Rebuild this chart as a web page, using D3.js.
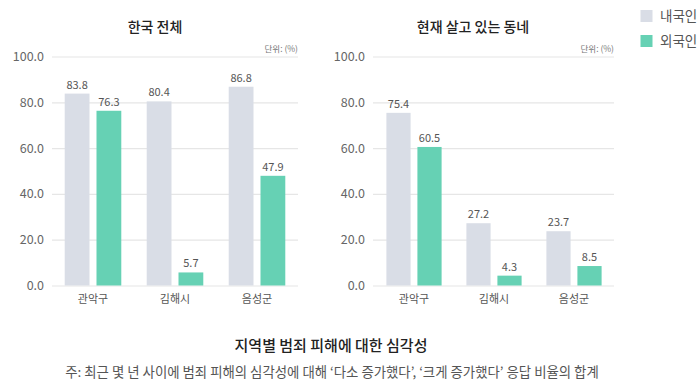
<!DOCTYPE html>
<html><head><meta charset="utf-8">
<script src="https://cdn.jsdelivr.net/npm/d3@7"></script>
<style>
body{margin:0;background:#fff;}
text{font-family:"Noto Sans CJK KR","Noto Sans",sans-serif;}
</style></head>
<body><svg id="c" width="700" height="392"></svg>
<script>
const categories = ["관악구", "김해시", "음성군"];
const seriesNames = ["내국인", "외국인"];
const panelTitles = ["한국 전체", "현재 살고 있는 동네"];
const koreaDomestic = [83.8, 80.4, 86.8];
const koreaForeign = [76.3, 5.7, 47.9];
const hoodDomestic = [75.4, 27.2, 23.7];
const hoodForeign = [60.5, 4.3, 8.5];
const yTicks = [0, 20, 40, 60, 80, 100];
const colors = ["#d9dde6", "#66d1b4"];
const unitLabel = "단위: (%)";
const mainTitle = "지역별 범죄 피해에 대한 심각성";
const note = "주: 최근 몇 년 사이에 범죄 피해의 심각성에 대해 ‘다소 증가했다’, ‘크게 증가했다’ 응답 비율의 합계";

const svg = d3.select("#c");
const y = d3.scaleLinear().domain([0, 100]).range([285.5, 56.5]);

const panels = [
  {title: panelTitles[0], data: [koreaDomestic, koreaForeign], x0: 52, x1: 298, gx0: 52, gx1: 298, tx: 155},
  {title: panelTitles[1], data: [hoodDomestic, hoodForeign], x0: 374, x1: 614, gx0: 373, gx1: 614, tx: 473}
];

panels.forEach(p => {
  const g = svg.append("g");
  const yAxis = d3.axisLeft(y).tickValues(yTicks).tickFormat(d3.format(".1f")).tickSize(-(p.gx1 - p.gx0)).tickPadding(8);
  const ax = g.append("g").attr("transform", `translate(${p.gx0},0)`).call(yAxis);
  ax.select(".domain").remove();
  ax.selectAll(".tick line").attr("stroke", "#e6e6e6").attr("stroke-width", 1.2);
  ax.selectAll(".tick text").attr("fill", "#666").attr("font-size", 12.5).attr("font-family", "Roboto, 'Noto Sans', sans-serif");

  const xb = d3.scaleBand().domain(categories).range([p.x0, p.x1]).paddingInner(0.31).paddingOuter(0.155);
  const xs = d3.scaleBand().domain(seriesNames).range([0, xb.bandwidth()]).paddingInner(0.22);

  categories.forEach((c, i) => {
    seriesNames.forEach((s, j) => {
      const v = p.data[j][i];
      const bx = xb(c) + xs(s);
      g.append("rect").attr("x", bx).attr("y", y(v)).attr("width", xs.bandwidth())
        .attr("height", y(0) - y(v)).attr("fill", colors[j]);
      g.append("text").attr("x", bx + xs.bandwidth() / 2).attr("y", y(v) - 5)
        .attr("text-anchor", "middle").attr("font-size", 11).attr("fill", "#555")
        .attr("font-family", "Roboto, 'Noto Sans', sans-serif").text(v.toFixed(1));
    });
    g.append("text").attr("x", xb(c) + xb.bandwidth() / 2).attr("y", 303)
      .attr("text-anchor", "middle").attr("font-size", 11).attr("fill", "#555").text(c);
  });

  g.append("text").attr("x", p.tx).attr("y", 32).attr("text-anchor", "middle")
    .attr("font-size", 14).attr("font-weight", 500).attr("fill", "#222").text(p.title);
  g.append("text").attr("x", p.gx1).attr("y", 52).attr("text-anchor", "end")
    .attr("font-size", 8.5).attr("fill", "#777").text(unitLabel);
});

seriesNames.forEach((s, j) => {
  const ly = 10 + j * 25;
  svg.append("rect").attr("x", 640.5).attr("y", ly).attr("width", 12).attr("height", 12).attr("fill", colors[j]);
  svg.append("text").attr("x", 660).attr("y", ly + 11).attr("font-size", 13.5).attr("fill", "#555").text(s);
});

svg.append("text").attr("x", 331).attr("y", 351).attr("text-anchor", "middle")
  .attr("font-size", 15).attr("font-weight", 500).attr("fill", "#222").text(mainTitle);
svg.append("text").attr("x", 332).attr("y", 377).attr("text-anchor", "middle")
  .attr("font-size", 13.4).attr("fill", "#555").text(note);
</script></body></html>
